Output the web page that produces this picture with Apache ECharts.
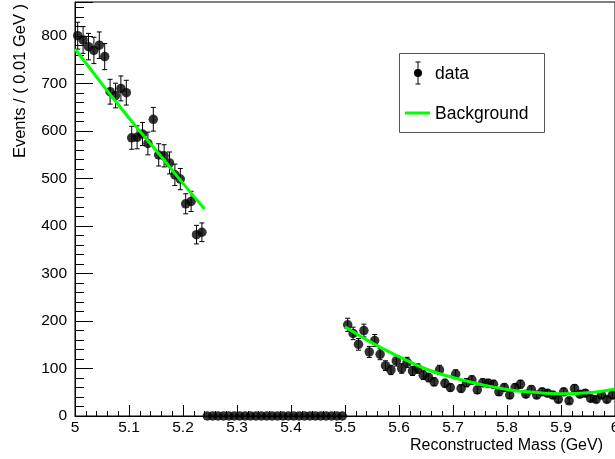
<!DOCTYPE html>
<html>
<head>
<meta charset="utf-8">
<script src="https://cdn.jsdelivr.net/npm/echarts@6/dist/echarts.min.js"></script>
<style>
html,body{margin:0;padding:0;background:#fff;overflow:hidden;width:615px;height:459px;}
#chart{width:615px;height:459px;}
</style>
</head>
<body>
<div id="chart"></div>
<script>
// Bin centres (GeV) and event counts per 0.01 GeV
const lowMass = [5.005,5.015,5.025,5.035,5.045,5.055,5.065,5.075,5.085,5.095,5.105,5.115,5.125,5.135,5.145,5.155,5.165,5.175,5.185,5.195,5.205,5.215,5.225,5.235];
const lowCounts = [801,792,778,770,781,757,683,675,690,681,586,587,594,574,625,550,548,533,508,499,447,452,382,387];
const gapMass = [5.245,5.255,5.265,5.275,5.285,5.295,5.305,5.315,5.325,5.335,5.345,5.355,5.365,5.375,5.385,5.395,5.405,5.415,5.425,5.435,5.445,5.455,5.465,5.475,5.485,5.495];
const gapCounts = [0,0,0,0,0,0,0,0,0,0,0,0,0,0,0,0,0,0,0,0,0,0,0,0,0,0];
const highMass = [5.505,5.515,5.525,5.535,5.545,5.555,5.565,5.575,5.585,5.595,5.605,5.615,5.625,5.635,5.645,5.655,5.665,5.675,5.685,5.695,5.705,5.715,5.725,5.735,5.745,5.755,5.765,5.775,5.785,5.795,5.805,5.815,5.825,5.835,5.845,5.855,5.865,5.875,5.885,5.895,5.905,5.915,5.925,5.935,5.945,5.955,5.965,5.975,5.985,5.995];
const highCounts = [192,174,151,180,135,159,130,106,97,116,100,113,95,100,86,81,72,97,69,60,88,58,70,76,55,70,69,67,51,60,44,60,67,46,56,44,51,48,44,35,51,32,58,46,48,37,35,44,35,44];

// Background curve
const bkgLowX = [5.00,5.04,5.08,5.12,5.16,5.20,5.24];
const bkgLowY = [773,714,656,600,546,490,436];
const bkgHighX = [5.50,5.55,5.60,5.65,5.70,5.75,5.80,5.85,5.90,5.95,6.00];
const bkgHighY = [188,154,125,99,81,67,56,50,47,49,57];

const xTicks = {min:5, max:6, interval:0.1};
const yTicks = {min:0, max:872, interval:100};

const FONT = '"Liberation Sans", Arial, Helvetica, sans-serif';

const allMass = lowMass.concat(gapMass, highMass);
const allCounts = lowCounts.concat(gapCounts, highCounts);
const points = allMass.map((m,i)=>[m, allCounts[i]]);
const errPoints = points.filter(p=>p[1]>0).map(p=>[p[0], p[1], Math.sqrt(p[1])]);

const chart = echarts.init(document.getElementById('chart'), null, {renderer:'canvas', width:615, height:459});
chart.setOption({
  animation:false,
  backgroundColor:'#fff',
  grid:{left:75, right:0, top:2, bottom:43, show:true, borderColor:'#000', borderWidth:1,
        containLabel:false, outerBoundsMode:'none'},
  xAxis:{
    type:'value', min:xTicks.min, max:xTicks.max, interval:xTicks.interval,
    axisLine:{show:true, onZero:false, lineStyle:{color:'#000', width:1}},
    axisTick:{show:true, inside:true, length:11, lineStyle:{color:'#000'}},
    minorTick:{show:true, splitNumber:5, length:5, lineStyle:{color:'#000'}},
    splitLine:{show:false},
    axisLabel:{color:'#000', fontFamily:FONT, fontSize:15.5, margin:4,
      formatter:v=>String(Math.round(v*10)/10), showMaxLabel:true, showMinLabel:true}
  },
  yAxis:{
    type:'value', min:yTicks.min, max:yTicks.max, interval:yTicks.interval,
    axisLine:{show:true, lineStyle:{color:'#000', width:1}},
    axisTick:{show:true, inside:true, length:18, lineStyle:{color:'#000'}},
    minorTick:{show:true, splitNumber:5, length:9, lineStyle:{color:'#000'}},
    splitLine:{show:false},
    axisLabel:{color:'#000', fontFamily:FONT, fontSize:15.5, margin:8, showMaxLabel:false}
  },
  series:[
    {
      type:'custom', name:'errors', data:errPoints, clip:false, z:3,
      renderItem:(params, api)=>{
        const x = api.value(0), y = api.value(1), e = api.value(2);
        const top = api.coord([x, y+e]);
        const bot = api.coord([x, y-e]);
        const cap = 2.5;
        const st = {stroke:'#000', lineWidth:1};
        return {type:'group', children:[
          {type:'line', shape:{x1:top[0], y1:top[1], x2:bot[0], y2:bot[1]}, style:st},
          {type:'line', shape:{x1:top[0]-cap, y1:top[1], x2:top[0]+cap, y2:top[1]}, style:st},
          {type:'line', shape:{x1:bot[0]-cap, y1:bot[1], x2:bot[0]+cap, y2:bot[1]}, style:st}
        ]};
      }
    },
    {
      type:'scatter', name:'data', data:points, symbol:'circle', symbolSize:9.5, clip:false, z:4,
      itemStyle:{color:'#000'}
    },
    {
      type:'line', name:'Background', data:bkgLowX.map((x,i)=>[x,bkgLowY[i]]),
      smooth:true, showSymbol:false, z:5, lineStyle:{color:'#00ff00', width:3}
    },
    {
      type:'line', name:'Background2', data:bkgHighX.map((x,i)=>[x,bkgHighY[i]]),
      smooth:true, showSymbol:false, z:5, lineStyle:{color:'#00ff00', width:3}
    }
  ],
  graphic:[
    {type:'text', x:20, y:4, rotation:Math.PI/2,
      style:{text:'Events / ( 0.01 GeV )', fontFamily:FONT, fontSize:16.5, fill:'#000', align:'right', verticalAlign:'middle'}},
    {type:'text', x:603, y:446,
      style:{text:'Reconstructed Mass (GeV)', fontFamily:FONT, fontSize:16, fill:'#000', align:'right', verticalAlign:'middle'}},
    {type:'rect', shape:{x:399.5, y:53.5, width:145, height:79}, style:{fill:'#fff', stroke:'#555', lineWidth:1}, z:10},
    {type:'line', shape:{x1:418, y1:62, x2:418, y2:84}, style:{stroke:'#000', lineWidth:1}, z:11},
    {type:'line', shape:{x1:415.5, y1:62, x2:420.5, y2:62}, style:{stroke:'#000', lineWidth:1}, z:11},
    {type:'line', shape:{x1:415.5, y1:84, x2:420.5, y2:84}, style:{stroke:'#000', lineWidth:1}, z:11},
    {type:'circle', shape:{cx:418, cy:73, r:4}, style:{fill:'#000'}, z:11},
    {type:'text', x:435, y:74, z:11, style:{text:'data', fontFamily:FONT, fontSize:17.5, fill:'#000', align:'left', verticalAlign:'middle'}},
    {type:'line', shape:{x1:405, y1:113, x2:430, y2:113}, style:{stroke:'#00ff00', lineWidth:3}, z:11},
    {type:'text', x:435, y:114, z:11, style:{text:'Background', fontFamily:FONT, fontSize:17.5, fill:'#000', align:'left', verticalAlign:'middle'}}
  ]
});
</script>
</body>
</html>
